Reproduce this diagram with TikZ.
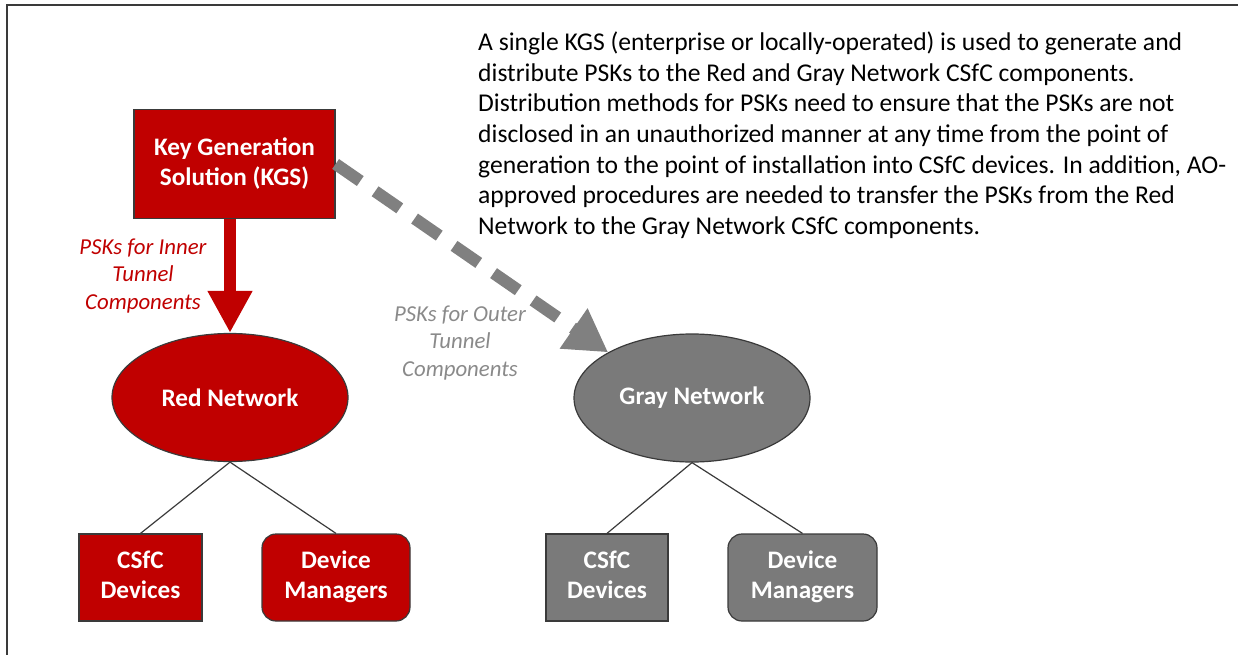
\documentclass[tikz,border=0pt]{standalone}
\usepackage{fontspec}
\setmainfont{Carlito}
\usetikzlibrary{shapes.geometric,arrows.meta}
\definecolor{kred}{HTML}{C00000}
\definecolor{kgray}{HTML}{7A7A7A}
\definecolor{agray}{HTML}{808080}
\definecolor{lgray}{HTML}{8A8A8A}
\definecolor{edge}{HTML}{3A3A3A}
\tikzset{
  box/.style={draw=edge, line width=1.2pt, text=white, align=center, inner sep=0pt,
    font=\bfseries\fontsize{25.2}{30}\selectfont},
  redbox/.style={box, fill=kred},
  graybox/.style={box, fill=kgray},
  netnode/.style={ellipse, draw=edge, line width=1.2pt, text=white, inner sep=0pt,
    minimum width=236pt, minimum height=128pt, font=\bfseries\fontsize{25.2}{30}\selectfont},
  link/.style={draw=edge, line width=1.2pt},
  lbl/.style={align=center, inner sep=0pt, font=\itshape\fontsize{22.8}{27.5}\selectfont},
}
\begin{document}
\begin{tikzpicture}[x=1pt, y=-1pt]
\useasboundingbox (0,0) rectangle (1238,655);
\draw[edge, line width=2pt] (7,655) -- (7,5) -- (1238,5);

\node[redbox, minimum width=201pt, minimum height=109pt] (kgs) at (234.5,164) {Key Generation\\Solution (KGS)};
\node[netnode, fill=kred] (red) at (230,397.5) {Red Network};
\node[netnode, fill=kgray] (gray) at (692,398) {Gray Network};

\node[redbox, minimum width=123pt, minimum height=87pt] (rcsfc) at (140.5,577.5) {\strut CSfC\\\strut Devices};
\node[redbox, rounded corners=14pt, minimum width=148pt, minimum height=87pt] (rdm) at (336,577.5) {\strut Device\\\strut Managers};
\node[graybox, minimum width=122pt, minimum height=87pt] (gcsfc) at (607,577.5) {\strut CSfC\\\strut Devices};
\node[graybox, rounded corners=14pt, minimum width=149pt, minimum height=87pt] (gdm) at (802.5,577.5) {\strut Device\\\strut Managers};

\draw[link] (red.south) -- (rcsfc.north);
\draw[link] (red.south) -- (rdm.north);
\draw[link] (gray.south) -- (gcsfc.north);
\draw[link] (gray.south) -- (gdm.north);

\draw[kred, line width=12pt, -{Triangle[width=42pt 0 0, length=42pt 0 0]}] (kgs.south -| red.north) -- (red.north);
\draw[agray, line width=12pt, dash pattern=on 30pt off 18pt, -{Triangle[width=46pt 0 0, length=42pt 0 0]}] (kgs.east) -- (gray.north west);

\node[lbl, text=kred] (inner) at (143,276) {PSKs for Inner\\Tunnel\\Components};
\node[lbl, text=lgray] (outer) at (460,343) {PSKs for Outer\\Tunnel\\Components};

\node[anchor=north west, align=left, inner sep=0pt, font=\fontsize{25.6}{30.7}\selectfont] (para) at (478,31.5)
{A single KGS (enterprise or locally-operated) is used to generate and\\
distribute PSKs to the Red and Gray Network CSfC components.\\
Distribution methods for PSKs need to ensure that the PSKs are not\\
disclosed in an unauthorized manner at any time from the point of\\
generation to the point of installation into CSfC devices. In addition, AO-\\
approved procedures are needed to transfer the PSKs from the Red\\
Network to the Gray Network CSfC components.};
\end{tikzpicture}
\end{document}
